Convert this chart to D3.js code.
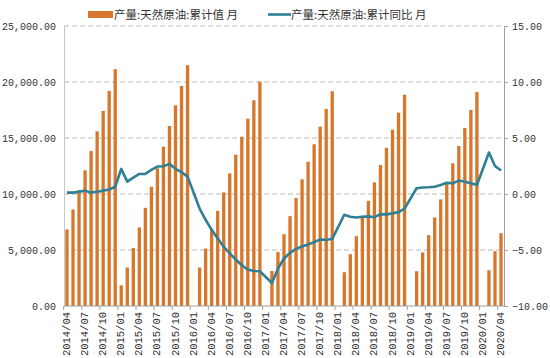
<!DOCTYPE html>
<html>
<head>
<meta charset="utf-8">
<script src="https://cdn.jsdelivr.net/npm/d3@7.9.0/dist/d3.min.js"></script>
<style>
  body { margin: 0; background: #fff; }
  svg { display: block; }
  .tick text { font-family: "Liberation Mono", "DejaVu Sans Mono", monospace; fill: #333; }
</style>
</head>
<body>
<svg id="chart" width="550" height="358"></svg>
<script>
// --- Data (产量:天然原油, 万吨 / %) ---
const months = [
  '2014/04','2014/05','2014/06','2014/07','2014/08','2014/09','2014/10','2014/11','2014/12',
  '2015/01','2015/02','2015/03','2015/04','2015/05','2015/06','2015/07','2015/08','2015/09','2015/10','2015/11','2015/12',
  '2016/01','2016/02','2016/03','2016/04','2016/05','2016/06','2016/07','2016/08','2016/09','2016/10','2016/11','2016/12',
  '2017/01','2017/02','2017/03','2017/04','2017/05','2017/06','2017/07','2017/08','2017/09','2017/10','2017/11','2017/12',
  '2018/01','2018/02','2018/03','2018/04','2018/05','2018/06','2018/07','2018/08','2018/09','2018/10','2018/11','2018/12',
  '2019/01','2019/02','2019/03','2019/04','2019/05','2019/06','2019/07','2019/08','2019/09','2019/10','2019/11','2019/12',
  '2020/01','2020/02','2020/03','2020/04'
];

const cumValue = [
  6834, 8622, 10349, 12111, 13837, 15600, 17415, 19204, 21145,
  1852, 3435, 5188, 7012, 8766, 10644, 12290, 14222, 16073, 17925, 19651, 21503,
  null, 3435, 5134, 6834, 8497, 10143, 11843, 13506, 15116, 16726, 18372, 20036,
  null, 3131, 4830, 6413, 8023, 9633, 11306, 12880, 14436, 16011, 17594, 19177,
  null, 3014, 4624, 6234, 7907, 9392, 11038, 12585, 14132, 15742, 17263, 18873,
  null, 3104, 4777, 6324, 7907, 9517, 11002, 12737, 14284, 15894, 17504, 19115,
  null, 3193, 4893, 6503
];

const cumYoy = [
  0.12, 0.12, 0.2, 0.3, 0.12, 0.2, 0.3, 0.4, 0.65,
  2.24, 1.1, 1.46, 1.79, 1.8, 2.15, 2.45, 2.48, 2.69, 2.25, 1.95, 1.55,
  null, -1.3, -2.3, -3.2, -3.97, -4.72, -5.3, -5.85, -6.36, -6.75, -6.87, -6.9,
  null, -7.95, -6.66, -5.76, -5.25, -4.9, -4.68, -4.5, -4.3, -4.06, -4.1, -4.0,
  null, -1.85, -2.03, -2.1, -2.03, -2.0, -2.07, -1.8, -1.82, -1.73, -1.62, -1.3,
  null, 0.51, 0.58, 0.6, 0.65, 0.8, 1.0, 0.95, 1.2, 1.1, 0.95, 0.8,
  null, 3.7, 2.5, 2.1
];

const leftTicks = [0, 5000, 10000, 15000, 20000, 25000];
const rightTicks = [-10, -5, 0, 5, 10, 15];
const seriesNames = ['产量:天然原油:累计值 月', '产量:天然原油:累计同比 月'];

const barColor = '#d7772b';
const lineColor = '#2f7f96';

// --- Layout ---
const margin = { top: 26, right: 46, bottom: 52, left: 64 };
const width = 550, height = 358;
const innerW = width - margin.left - margin.right;
const innerH = height - margin.top - margin.bottom;

const svg = d3.select('#chart');
const g = svg.append('g').attr('transform', `translate(${margin.left},${margin.top})`);

const x = d3.scaleBand().domain(months).range([0, innerW]).paddingInner(0.45).paddingOuter(0.22);
const yL = d3.scaleLinear().domain([0, 25000]).range([innerH, 0]);
const yR = d3.scaleLinear().domain([-10, 15]).range([innerH, 0]);

// gridlines
g.append('g')
  .selectAll('line')
  .data(leftTicks.filter(d => d > 0))
  .join('line')
  .attr('x1', 0).attr('x2', innerW)
  .attr('y1', d => yL(d)).attr('y2', d => yL(d))
  .attr('stroke', '#a6a6a6')
  .attr('stroke-dasharray', '5,3')
  .attr('stroke-width', 0.8);

// bars
const rows = months.map((m, i) => ({ m, v: cumValue[i], r: cumYoy[i] }));
g.append('g')
  .selectAll('rect')
  .data(rows.filter(d => d.v != null))
  .join('rect')
  .attr('x', d => x(d.m))
  .attr('width', x.bandwidth())
  .attr('y', d => yL(d.v))
  .attr('height', d => innerH - yL(d.v))
  .attr('fill', barColor);

// line (January gaps are bridged)
const line = d3.line()
  .x(d => x(d.m) + x.bandwidth() / 2)
  .y(d => yR(d.r));
g.append('path')
  .datum(rows.filter(d => d.r != null))
  .attr('d', line)
  .attr('fill', 'none')
  .attr('stroke', lineColor)
  .attr('stroke-width', 2.6)
  .attr('stroke-linejoin', 'round');

// left axis
const fmtL = d3.format(',.2f');
const axL = g.append('g')
  .call(d3.axisLeft(yL).tickValues(leftTicks).tickFormat(fmtL).tickSize(0).tickPadding(8));
axL.select('.domain').attr('stroke', '#c8c8c8');
axL.selectAll('text').attr('font-size', 10);

// right axis
const axR = g.append('g')
  .attr('transform', `translate(${innerW},0)`)
  .call(d3.axisRight(yR).tickValues(rightTicks).tickFormat(d3.format('.2f')).tickSize(4).tickPadding(4));
axR.select('.domain').attr('stroke', '#a0a0a0');
axR.selectAll('.tick line').attr('stroke', '#a0a0a0');
axR.selectAll('text').attr('font-size', 10);

// bottom axis
const tickMonths = months.filter((m, i) => i % 3 === 0);
const axB = g.append('g')
  .attr('transform', `translate(0,${innerH})`);
axB.append('line')
  .attr('x1', 0).attr('x2', innerW)
  .attr('stroke', '#a0a0a0');
const step = x.step();
axB.selectAll('.btick')
  .data(tickMonths)
  .join('line')
  .attr('class', 'btick')
  .attr('x1', d => x(d) - step * 0.275).attr('x2', d => x(d) - step * 0.275)
  .attr('y1', 0).attr('y2', 4)
  .attr('stroke', '#a0a0a0');
axB.selectAll('.blabel')
  .data(tickMonths)
  .join('text')
  .attr('class', 'blabel')
  .attr('transform', d => `translate(${x(d) + 1},${6}) rotate(-90)`)
  .attr('text-anchor', 'end')
  .attr('dy', '0.35em')
  .attr('font-family', '"Liberation Mono", "DejaVu Sans Mono", monospace')
  .attr('font-size', 10.5)
  .attr('fill', '#333')
  .text(d => d);

// legend
const lg = svg.append('g').attr('font-family', '"Noto Sans CJK SC", sans-serif').attr('font-size', 11.5).attr('fill', '#333');
lg.append('rect').attr('x', 88).attr('y', 11).attr('width', 25).attr('height', 7).attr('fill', barColor);
lg.append('text').attr('x', 114).attr('y', 19).text(seriesNames[0]);
lg.append('line').attr('x1', 268).attr('x2', 291).attr('y1', 14.5).attr('y2', 14.5)
  .attr('stroke', lineColor).attr('stroke-width', 2.6);
lg.append('text').attr('x', 291).attr('y', 19).text(seriesNames[1]);
</script>
</body>
</html>
